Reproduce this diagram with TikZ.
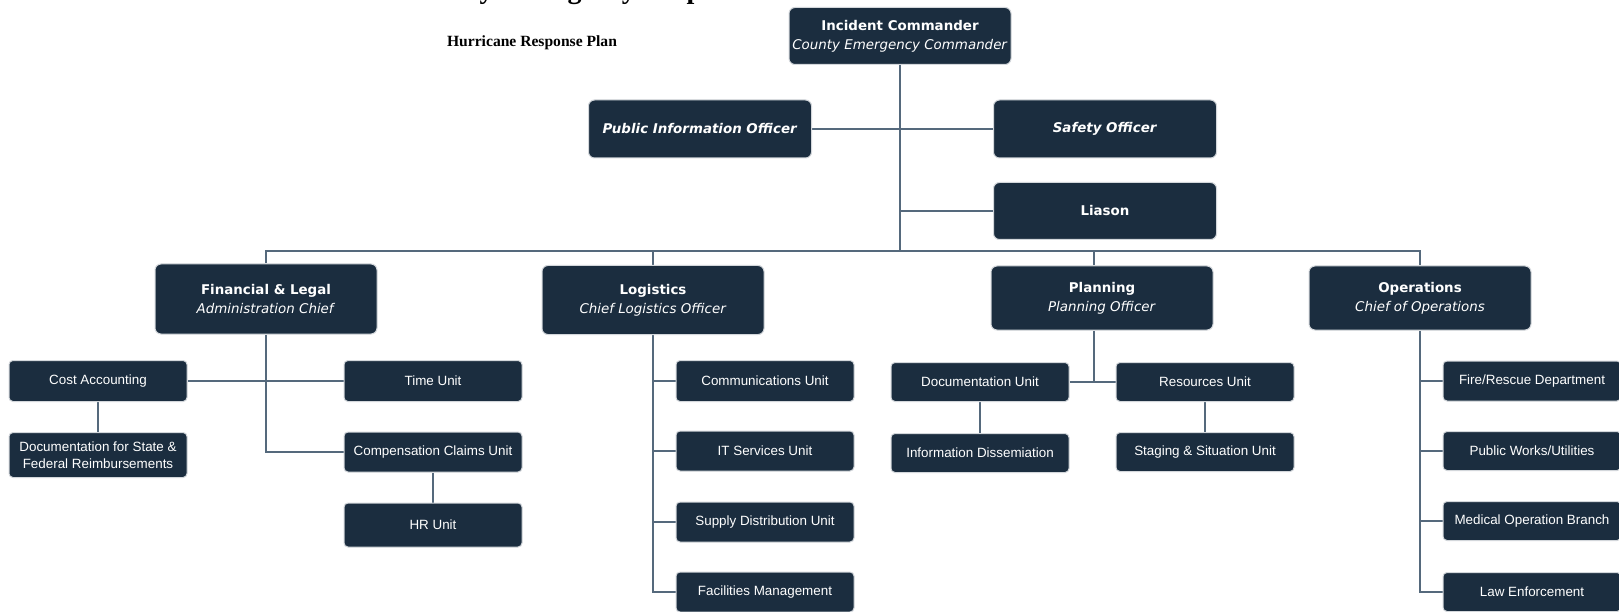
\documentclass[tikz,border=0pt]{standalone}
\usepackage{fontspec}
\usetikzlibrary{positioning,calc,backgrounds}
\newfontfamily\headfont{DejaVu Sans}
\newfontfamily\unitfont{Liberation Sans}
\newfontfamily\titlefont{Liberation Serif}
\definecolor{box-navy}{HTML}{1B2D3F}
\definecolor{link-slate}{HTML}{55697C}
\definecolor{box-rim}{HTML}{D3D7DB}

\begin{document}
\begin{tikzpicture}[x=1pt, y=-1pt,
    head/.style={fill=box-navy, draw=box-rim, line width=1pt, rounded corners=6pt,
        text=white, align=center, minimum width=222pt, minimum height=57pt,
        inner sep=0pt, font=\headfont\fontsize{13.4}{19}\selectfont},
    unit/.style={fill=box-navy, draw=box-rim, line width=1pt, rounded corners=4pt,
        text=white, align=center, minimum width=178pt, minimum height=40pt,
        inner sep=0pt, font=\unitfont\fontsize{13.4}{17}\selectfont},
    link/.style={draw=link-slate, line width=1.6pt}]
    \clip (0,0) rectangle (1619,612);

    % title, cut off at the top edge
    \node[anchor=base, inner sep=0pt, font=\titlefont\bfseries\fontsize{28}{30}\selectfont] (title) at (580,-1.5) {County Emergency Response};
    \node[font=\titlefont\bfseries\fontsize{15.6}{18}\selectfont] (subtitle) at (532,43) {Hurricane Response Plan};

    % command staff
    \node[head] (ic) at (900,36) {\textbf{Incident Commander}\\\textit{County Emergency Commander}};
    \node[head, minimum width=223pt, minimum height=58pt] (pio) at (700,129) {\textbf{\textit{Public Information Officer}}};
    \node[head, minimum width=223pt, minimum height=58pt] (safety) at (1105,129) {\textbf{\textit{Safety Officer}}};
    \node[head, minimum width=223pt] (liason) at (1105,211) {\textbf{Liason}};

    % general staff
    \node[head, minimum height=70pt] (fin) at (266,299) {\textbf{Financial \& Legal}\\\textit{Administration Chief}};
    \node[head, minimum height=69pt] (log) at (653,300) {\textbf{Logistics}\\\textit{Chief Logistics Officer}};
    \node[head, minimum height=64pt] (plan) at (1102,298) {\textbf{Planning}\\\textit{Planning Officer}};
    \node[head, minimum height=64pt] (ops) at (1420,298) {\textbf{Operations}\\\textit{Chief of Operations}};

    % financial units
    \node[unit, minimum height=41pt] (cost) at (98,381) {Cost Accounting};
    \node[unit, minimum height=45pt] (docfed) at (98,455) {Documentation for State \&\\Federal Reimbursements};
    \node[unit, minimum height=41pt] (time) at (433,381) {Time Unit};
    \node[unit] (comp) at (433,452) {Compensation Claims Unit};
    \node[unit, minimum height=44pt] (hr) at (433,525) {HR Unit};

    % logistics units
    \node[unit, minimum height=41pt] (comm) at (765,381) {Communications Unit};
    \node[unit] (itserv) at (765,451) {IT Services Unit};
    \node[unit] (supply) at (765,522) {Supply Distribution Unit};
    \node[unit] (fac) at (765,592) {Facilities Management};

    % planning units
    \node[unit, minimum height=39pt] (docunit) at (980,382) {Documentation Unit};
    \node[unit, minimum height=39pt] (infodis) at (980,453) {Information Dissemiation};
    \node[unit, minimum height=39pt] (res) at (1205,382) {Resources Unit};
    \node[unit, minimum height=39pt] (staging) at (1205,452) {Staging \& Situation Unit};

    % operations units
    \node[unit] (fire) at (1532,381) {Fire/Rescue Department};
    \node[unit, minimum height=39pt] (pubworks) at (1532,451) {Public Works/Utilities};
    \node[unit, minimum height=39pt] (medical) at (1532,521) {Medical Operation Branch};
    \node[unit, minimum height=39pt] (law) at (1532,592) {Law Enforcement};

    % connectors
    \begin{scope}[on background layer]
    \fill[white] (0,0) rectangle (1619,612);
    \coordinate (bus) at (ic.south |- 0,251);
    \draw[link] (ic.south) -- (bus);
    \draw[link] (pio.east) -- (safety.west);
    \draw[link] (liason.west) -- (liason.west -| ic.south);
    \draw[link] (fin.north) |- (bus) -| (ops.north);
    \draw[link] (log.north) -- (log.north |- bus);
    \draw[link] ([xshift=-8pt]plan.north) -- ([xshift=-8pt]plan.north |- bus);

    \draw[link] (fin.south) |- (comp.west);
    \draw[link] (cost.east) -- (time.west);
    \draw[link] (cost) -- (docfed);
    \draw[link] (comp) -- (hr);

    \draw[link] (log.south) |- (fac.west);
    \foreach \u in {comm,itserv,supply}
        \draw[link] (log.south |- \u.west) -- (\u.west);

    \draw[link] (docunit.east) -- (res.west);
    \draw[link] ([xshift=-8pt]plan.south) -- ([xshift=-8pt]plan.south |- res.west);
    \draw[link] (docunit) -- (infodis);
    \draw[link] (res) -- (staging);

    \draw[link] (ops.south) |- (law.west);
    \foreach \u in {fire,pubworks,medical}
        \draw[link] (ops.south |- \u.west) -- (\u.west);
    \end{scope}
\end{tikzpicture}
\end{document}
